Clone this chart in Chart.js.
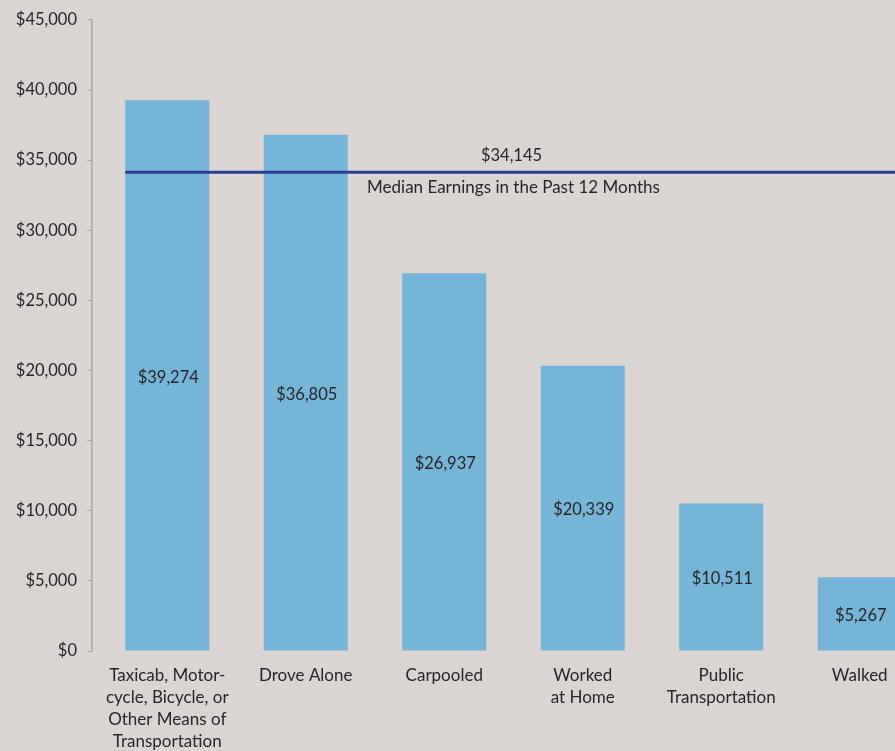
<!DOCTYPE html>
<html>
<head>
<meta charset="utf-8">
<script src="https://cdn.jsdelivr.net/npm/chart.js@4"></script>
<style>
  html, body { margin: 0; padding: 0; background: #dad5d3; overflow: hidden; }
  #wrap { width: 929px; height: 751px; }
</style>
</head>
<body>
<div id="wrap"><canvas id="chart"></canvas></div>
<script>
"use strict";

const categories = [
    ["Taxicab, Motor-", "cycle, Bicycle, or", "Other Means of", "Transportation"],
    "Drove Alone",
    "Carpooled",
    ["Worked", "at Home"],
    ["Public", "Transportation"],
    "Walked"
];
const earnings = [39274, 36805, 26937, 20339, 10511, 5267];
const medianEarnings = 34145;
const medianLabel = "Median Earnings in the Past 12 Months";

const FONT = "Lato, 'Noto Sans', sans-serif";
const fmt = (v) => "$" + v.toLocaleString("en-US");

// value labels in the middle of each bar
const barLabels = {
    id: "barLabels",
    afterDatasetsDraw(chart) {
        const ctx = chart.ctx;
        const meta = chart.getDatasetMeta(0);
        ctx.save();
        ctx.font = "16.5px " + FONT;
        ctx.fillStyle = "#262626";
        ctx.textAlign = "center";
        ctx.textBaseline = "middle";
        meta.data.forEach((bar, i) => {
            ctx.fillText(fmt(earnings[i]), bar.x + 1, (bar.y + bar.base) / 2 + 2);
        });
        ctx.restore();
    }
};

// median earnings reference line
const medianLine = {
    id: "medianLine",
    afterDatasetsDraw(chart) {
        const ctx = chart.ctx;
        const y = chart.scales.y.getPixelForValue(medianEarnings);
        const first = chart.getDatasetMeta(0).data[0];
        const x0 = first.x - first.width / 2;
        const x1 = chart.chartArea.right;
        const xm = chart.scales.x.getPixelForValue(2.5);
        ctx.save();
        ctx.strokeStyle = "#2b3e96";
        ctx.lineWidth = 3;
        ctx.beginPath();
        ctx.moveTo(x0, y);
        ctx.lineTo(x1, y);
        ctx.stroke();
        ctx.fillStyle = "#262626";
        ctx.textAlign = "center";
        ctx.textBaseline = "middle";
        ctx.font = "16.5px " + FONT;
        ctx.fillText(fmt(medianEarnings), xm - 2, y - 16);
        ctx.font = "17px " + FONT;
        ctx.fillText(medianLabel, xm, y + 15);
        ctx.restore();
    }
};

new Chart(document.getElementById("chart"), {
    type: "bar",
    data: {
        labels: categories,
        datasets: [{
            data: earnings,
            backgroundColor: "#76b5d8",
            borderWidth: 0,
            barPercentage: 0.607,
            categoryPercentage: 1.0
        }]
    },
    options: {
        responsive: true,
        maintainAspectRatio: false,
        animation: false,
        layout: { padding: { top: 18, left: 0, right: 0, bottom: 0 } },
        plugins: {
            legend: { display: false },
            tooltip: { enabled: false }
        },
        scales: {
            x: {
                grid: { display: false },
                border: { display: false },
                ticks: {
                    color: "#262626",
                    font: { family: FONT, size: 17, lineHeight: 1.3 },
                    padding: 5,
                    maxRotation: 0,
                    autoSkip: false
                },
                afterFit: (s) => { s.height = 100; }
            },
            y: {
                weight: 1,
                min: 0,
                max: 45000,
                grid: {
                    drawOnChartArea: false,
                    tickLength: 5,
                    color: "#a9a9a9"
                },
                border: { color: "#a9a9a9", width: 1.5 },
                ticks: {
                    stepSize: 5000,
                    color: "#262626",
                    font: { family: FONT, size: 16.5 },
                    padding: 10,
                    callback: (v) => fmt(v)
                },
                afterFit: (s) => { s.width = 92; }
            },
            // empty spacer between the axis line and the first category
            gap: {
                type: "linear",
                position: "left",
                weight: 0,
                grid: { display: false },
                border: { display: false },
                ticks: { display: false },
                afterFit: (s) => { s.width = 6; }
            }
        }
    },
    plugins: [barLabels, medianLine]
});
</script>
</body>
</html>
